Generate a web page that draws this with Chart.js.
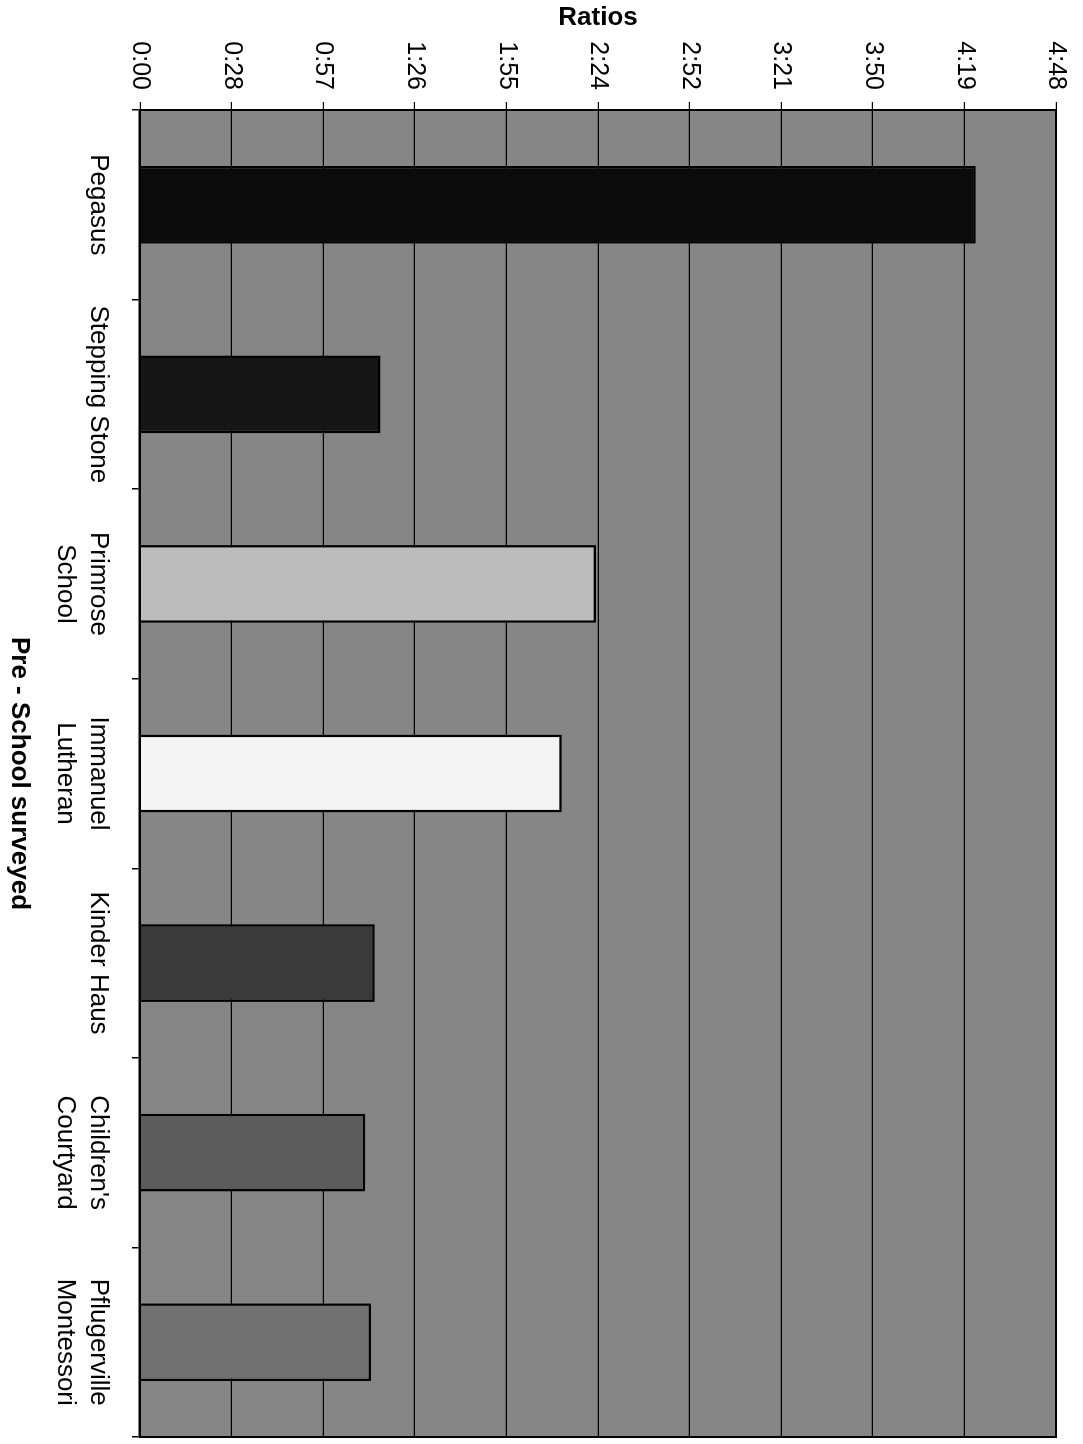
<!DOCTYPE html>
<html>
<head>
<meta charset="utf-8">
<title>Pre - School surveyed</title>
<script src="https://cdn.jsdelivr.net/npm/chart.js@4/dist/chart.umd.min.js"></script>
<style>
    html, body { margin: 0; padding: 0; background: #ffffff; overflow: hidden; }
    /* chart is drawn upright, then turned a quarter turn clockwise like the scan */
    #wrap {
        position: absolute; left: 0; top: 0;
        width: 1444px; height: 1083px;
        transform-origin: 0 0;
        transform: translateX(1083px) rotate(90deg);
    }
</style>
</head>
<body>
<div id="wrap"><canvas id="ratioChart" width="1444" height="1083"></canvas></div>
<script>
const schools = [
    "Pegasus",
    "Stepping Stone",
    ["Primrose", "School"],
    ["Immanuel", "Lutheran"],
    "Kinder Haus",
    ["Children's", "Courtyard"],
    ["Pflugerville", "Montessori"],
];
const ratios = [4.38, 1.26, 2.39, 2.21, 1.23, 1.18, 1.21];
const barColors = ["#0b0b0b", "#161616", "#bcbcbc", "#f4f4f4", "#3a3a3a", "#5c5c5c", "#717171"];
const axisMax = 4.8;
const axisStep = 0.48;

const FONT = "'Liberation Sans', Arial, Helvetica, sans-serif";

// Excel showed the ratio axis in h:mm, minutes truncated
function formatRatio(value) {
    const minutes = Math.floor(value * 60 + 1e-6);
    const h = Math.floor(minutes / 60);
    const m = minutes % 60;
    return `${h}:${String(m).padStart(2, "0")}`;
}

const plotFrame = {
    id: "plotFrame",
    beforeDraw(chart) {
        const { ctx, chartArea: a } = chart;
        ctx.save();
        ctx.fillStyle = "#868686";
        ctx.fillRect(a.left, a.top, a.width, a.height);
        ctx.restore();
    },
    afterDraw(chart) {
        const { ctx, chartArea: a } = chart;
        ctx.save();
        ctx.strokeStyle = "#000";
        ctx.lineWidth = 2;
        ctx.strokeRect(a.left, a.top, a.width, a.height);
        ctx.restore();
    },
};

new Chart(document.getElementById("ratioChart"), {
    type: "bar",
    data: {
        labels: schools,
        datasets: [{
            data: ratios,
            backgroundColor: barColors,
            borderColor: "#000",
            borderWidth: 2.5,
            barPercentage: 0.41,
            categoryPercentage: 1,
        }],
    },
    options: {
        responsive: false,
        animation: false,
        layout: { padding: { top: 24, right: 7, left: 0, bottom: 0 } },
        plugins: {
            legend: { display: false },
            tooltip: { enabled: false },
        },
        scales: {
            x: {
                offset: true,
                grid: { offset: true, drawOnChartArea: false, tickLength: 8, color: "#000", lineWidth: 1.5 },
                border: { color: "#000", width: 2.5 },
                ticks: {
                    color: "#000",
                    font: { family: FONT, size: 26, lineHeight: 1.25 },
                    padding: 18,
                    maxRotation: 0,
                    autoSkip: false,
                },
                title: {
                    display: true,
                    text: "Pre - School surveyed",
                    color: "#000",
                    font: { family: FONT, size: 26, weight: "bold" },
                    padding: { top: 0, bottom: 4 },
                },
                afterFit(scale) { scale.height = 140; },
            },
            y: {
                min: 0,
                max: axisMax,
                grid: { color: "#000", lineWidth: 1.2, tickLength: 8 },
                border: { color: "#000", width: 2 },
                ticks: {
                    stepSize: axisStep,
                    callback: formatRatio,
                    color: "#000",
                    font: { family: FONT, size: 25 },
                    padding: 12,
                },
                title: {
                    display: true,
                    text: "Ratios",
                    color: "#000",
                    font: { family: FONT, size: 26, weight: "bold" },
                    padding: { top: 2, bottom: 0 },
                },
                afterFit(scale) { scale.width = 110; },
            },
        },
    },
    plugins: [plotFrame],
});
</script>
</body>
</html>
